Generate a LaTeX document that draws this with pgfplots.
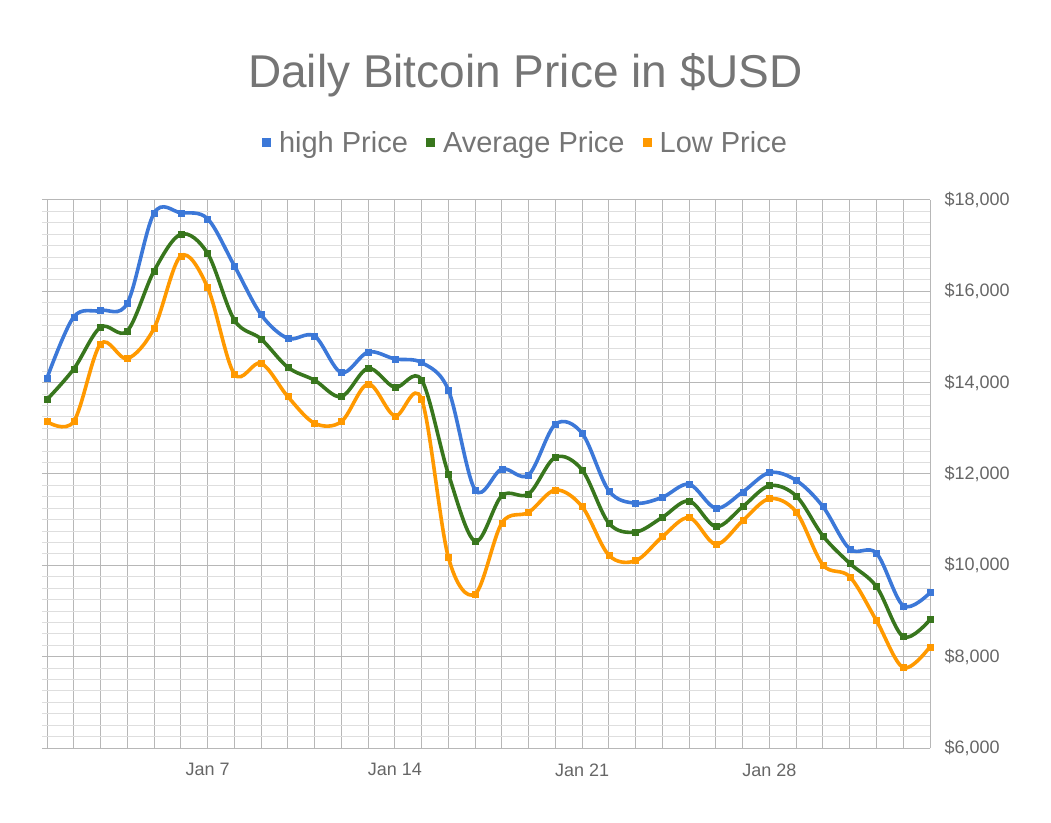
\documentclass[border=0pt]{standalone}
\usepackage{fontspec}
\setmainfont{Liberation Sans}
\usepackage{pgfplots}
\pgfplotsset{compat=1.18}
\definecolor{cHigh}{HTML}{3C78D8}
\definecolor{cAvg}{HTML}{38761D}
\definecolor{cLow}{HTML}{FF9900}
\definecolor{cTitle}{HTML}{757575}
\definecolor{cTick}{HTML}{666666}
\definecolor{gMajor}{HTML}{B7B7B7}
\definecolor{gMinor}{HTML}{DEDEDE}
\begin{document}
\begin{tikzpicture}
\path[use as bounding box] (0pt,0pt) rectangle (1051pt,822pt);
\begin{axis}[
  at={(42pt,74pt)}, anchor=south west,
  scale only axis, width=888pt, height=548pt,
  xmin=0.813, xmax=34, ymin=6000, ymax=18000,
  axis line style={draw=none},
  tick style={draw=none},
  xtick={7,14,21,28},
  xticklabels={Jan 7,Jan 14,Jan 21,Jan 28},
  minor xtick={1,...,34},
  ytick={6000,8000,...,18000},
  minor ytick={6000,6250,...,18000},
  yticklabel pos=right,
  scaled y ticks=false,
  /pgf/number format/.cd, fixed, 1000 sep={,}, assume math mode=true,
  /pgfplots/.cd,
  yticklabel={\$\pgfmathprintnumber{\tick}},
  ticklabel style={font=\fontsize{18}{20}\selectfont, text=cTick},
  yticklabel style={anchor=west, xshift=11pt},
  xticklabel style={yshift=-12pt},
  grid=both,
  major grid style={draw=gMajor, line width=1pt},
  minor x grid style={draw=gMajor, line width=1pt},
  minor y grid style={draw=gMinor, line width=1pt},
  legend columns=3,
  legend style={at={(axis description cs:0.5445,1.104)}, anchor=center, draw=none, fill=none,
    font=\fontsize{29}{32}\selectfont, text=cTitle,
    /tikz/every odd column/.append style={column sep=6pt},
    /tikz/every even column/.append style={column sep=16pt}},
  legend image code/.code={\fill[#1, draw=none] (0pt,-4.5pt) rectangle (9pt,4.5pt);},
  every axis plot/.append style={smooth, tension=0.55, line width=3.6pt, mark=square*, mark size=3pt, mark options={line width=0.4pt}},
]
\addplot[color=cHigh] coordinates {
(1,14100)(2,15440)(3,15580)(4,15740)(5,17710)(6,17720)(7,17590)(8,16560)(9,15490)(10,14970)
(11,15020)(12,14220)(13,14670)(14,14520)(15,14440)(16,13840)(17,11650)(18,12110)(19,11980)(20,13090)
(21,12890)(22,11630)(23,11360)(24,11490)(25,11775)(26,11250)(27,11607)(28,12030)(29,11860)(30,11285)
(31,10358)(32,10264)(33,9116)(34,9401)};
\addlegendentry{high Price}
\addplot[color=cAvg] coordinates {
(1,13630)(2,14300)(3,15213)(4,15132)(5,16446)(6,17250)(7,16833)(8,15373)(9,14957)(10,14336)
(11,14053)(12,13694)(13,14315)(14,13897)(15,14059)(16,12001)(17,10527)(18,11526)(19,11563)(20,12366)
(21,12088)(22,10921)(23,10730)(24,11052)(25,11409)(26,10847)(27,11284)(28,11744)(29,11519)(30,10643)
(31,10044)(32,9533)(33,8438)(34,8810)};
\addlegendentry{Average Price}
\addplot[color=cLow] coordinates {
(1,13146)(2,13150)(3,14848)(4,14527)(5,15191)(6,16775)(7,16089)(8,14191)(9,14425)(10,13694)
(11,13111)(12,13146)(13,13971)(14,13271)(15,13636)(16,10176)(17,9373)(18,10928)(19,11161)(20,11650)
(21,11284)(22,10220)(23,10102)(24,10628)(25,11044)(26,10461)(27,10978)(28,11460)(29,11168)(30,10008)
(31,9751)(32,8788)(33,7759)(34,8218)};
\addlegendentry{Low Price}
\end{axis}
\node[anchor=base, text=cTitle, font=\fontsize{46}{50}\selectfont] at (525.5pt,734pt) {Daily Bitcoin Price in \$USD};
\end{tikzpicture}
\end{document}
